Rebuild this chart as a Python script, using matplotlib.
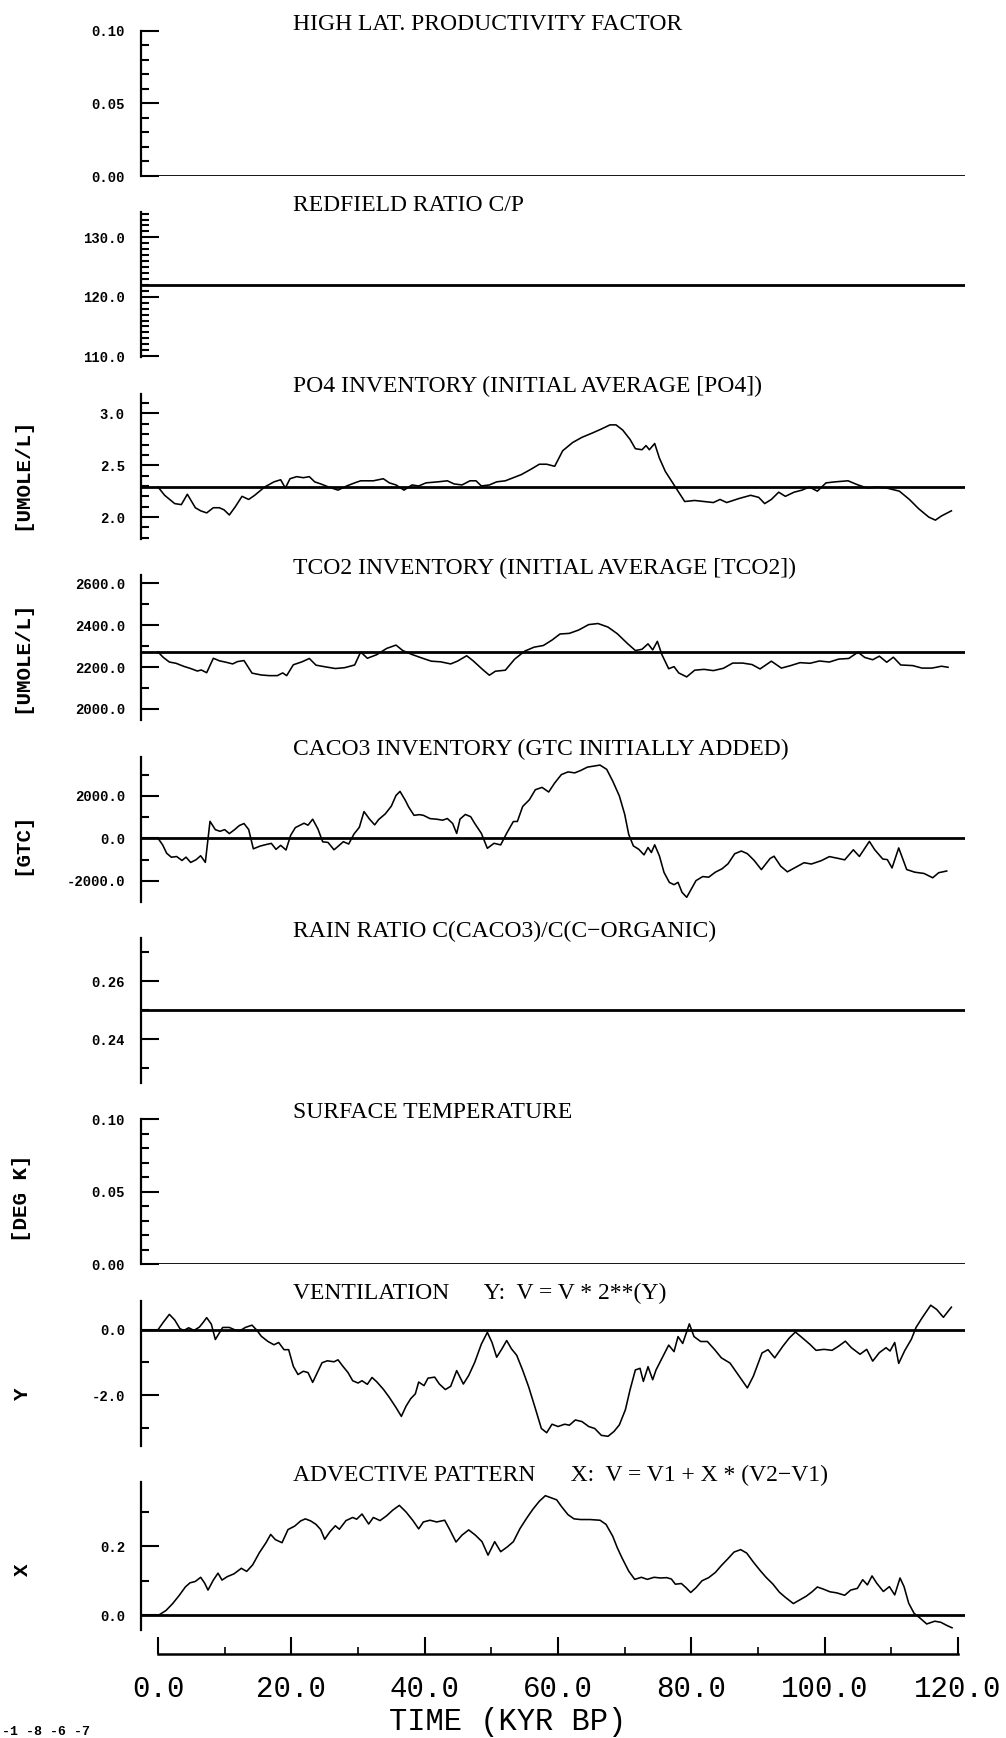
import matplotlib.pyplot as plt
from matplotlib.ticker import MultipleLocator, FormatStrFormatter

# ---- data (time in kyr BP) ----
hlat_factor = 0.0
redfield_cp = 122.0
rain_ratio = 0.25
surf_temp = 0.0

po4_t = [0, 1.0, 2.5, 3.5, 4.4, 5.6, 6.4, 7.3, 8.3, 9.2, 9.9, 10.7, 11.6, 12.6, 13.6, 14.5, 16.0, 17.4,
         18.4, 19.1, 19.8, 20.8, 21.8, 22.7, 23.5, 24.4, 25.6, 27.0, 28.3, 29.5, 30.4, 32.3, 33.8, 34.7,
         35.7, 36.9, 38.1, 39.1, 40.2, 42.0, 43.4, 44.4, 45.6, 46.8, 47.7, 48.5, 49.7, 50.8, 52.1, 53.3,
         54.5, 55.9, 57.2, 58.3, 59.5, 60.7, 62.2, 63.6, 65.1, 66.5, 67.8, 68.7, 69.7, 70.8, 71.6, 72.6,
         73.2, 73.7, 74.5, 75.2, 76.1, 77.1, 78.1, 79.0, 80.5, 81.9, 83.3, 84.3, 85.3, 87.2, 88.9, 90.1,
         91.0, 92.0, 93.1, 94.1, 95.4, 96.6, 97.7, 98.9, 100.2, 101.6, 103.5, 105.0, 106.4, 107.9, 109.3,
         111.2, 112.7, 114.1, 115.6, 116.6, 117.5, 119.0]
po4 = [2.29, 2.21, 2.13, 2.12, 2.22, 2.09, 2.06, 2.04, 2.09, 2.09, 2.07, 2.02, 2.10, 2.20, 2.17, 2.21,
       2.29, 2.34, 2.36, 2.28, 2.37, 2.39, 2.38, 2.39, 2.34, 2.32, 2.29, 2.26, 2.30, 2.33, 2.35, 2.35,
       2.37, 2.33, 2.31, 2.26, 2.31, 2.30, 2.33, 2.34, 2.35, 2.32, 2.31, 2.35, 2.35, 2.30, 2.31, 2.34,
       2.35, 2.38, 2.41, 2.46, 2.51, 2.51, 2.49, 2.64, 2.72, 2.77, 2.81, 2.85, 2.89, 2.89, 2.84, 2.75,
       2.66, 2.65, 2.69, 2.65, 2.71, 2.57, 2.44, 2.34, 2.24, 2.15, 2.16, 2.15, 2.14, 2.17, 2.14, 2.18,
       2.21, 2.19, 2.13, 2.17, 2.24, 2.20, 2.24, 2.26, 2.29, 2.25, 2.33, 2.34, 2.35, 2.31, 2.28, 2.29,
       2.28, 2.25, 2.17, 2.08, 2.00, 1.97, 2.01, 2.06]
po4_init = 2.29

tco2_t = [0, 0.8, 1.7, 2.7, 3.9, 4.9, 5.9, 6.5, 7.3, 8.3, 9.2, 10.2, 11.2, 11.9, 12.9, 14.1, 15.5, 16.7,
          17.9, 18.7, 19.3, 20.3, 21.6, 22.7, 23.7, 25.1, 26.6, 28.0, 29.5, 30.4, 31.4, 32.8, 34.3, 35.7,
          36.7, 38.1, 39.6, 41.0, 42.4, 43.9, 44.9, 46.3, 47.3, 48.7, 49.7, 50.6, 52.1, 53.5, 55.0, 56.4,
          57.8, 59.1, 60.3, 61.7, 63.1, 64.6, 66.0, 67.5, 68.9, 70.4, 71.6, 72.6, 73.5, 74.2, 74.9, 75.6,
          76.6, 77.4, 78.1, 79.3, 80.5, 81.9, 83.3, 84.8, 86.2, 87.7, 89.1, 90.3, 92.0, 93.5, 94.9, 96.3,
          97.8, 99.2, 100.7, 102.1, 103.6, 105.0, 106.0, 107.2, 108.2, 109.3, 110.3, 111.4, 113.2, 114.6,
          116.1, 117.5, 118.5]
tco2 = [2272, 2246, 2224, 2218, 2203, 2193, 2181, 2186, 2173, 2242, 2230, 2223, 2215, 2226, 2231, 2171,
        2162, 2159, 2159, 2172, 2159, 2211, 2225, 2241, 2209, 2201, 2193, 2197, 2210, 2272, 2242, 2259,
        2289, 2305, 2279, 2260, 2243, 2228, 2225, 2215, 2228, 2254, 2229, 2188, 2161, 2180, 2185, 2238,
        2276, 2295, 2303, 2329, 2358, 2361, 2377, 2403, 2408, 2391, 2359, 2313, 2279, 2285, 2311, 2282,
        2323, 2258, 2192, 2202, 2172, 2153, 2185, 2189, 2183, 2194, 2219, 2219, 2212, 2191, 2228, 2195,
        2207, 2221, 2218, 2229, 2224, 2238, 2241, 2271, 2246, 2235, 2252, 2223, 2247, 2210, 2207, 2195,
        2195, 2204, 2199]
tco2_init = 2272

caco3_t = [0, 0.7, 1.3, 2.0, 2.8, 3.6, 4.2, 4.9, 5.7, 6.4, 7.1, 7.8, 8.6, 9.3, 10.0, 10.7, 11.5, 12.2,
           12.9, 13.6, 14.3, 15.3, 16.3, 17.0, 17.7, 18.4, 19.2, 19.9, 20.6, 21.3, 21.9, 22.5, 23.2, 24.0,
           24.7, 25.5, 26.4, 27.0, 27.8, 28.6, 29.4, 30.2, 30.9, 31.7, 32.5, 33.1, 34.1, 35.0, 35.7, 36.3,
           37.1, 37.6, 38.4, 39.2, 39.8, 40.8, 41.8, 42.7, 43.4, 44.2, 44.8, 45.3, 46.1, 46.9, 47.5, 48.5,
           49.4, 50.4, 51.4, 52.3, 53.3, 53.9, 54.7, 55.7, 56.6, 57.6, 58.6, 59.5, 60.5, 61.5, 62.5, 63.4,
           64.4, 65.4, 66.3, 67.3, 68.2, 69.2, 70.0, 70.6, 71.3, 72.1, 72.9, 73.5, 74.0, 74.5, 75.2, 75.9,
           76.7, 77.4, 78.0, 78.6, 79.3, 80.0, 80.7, 81.7, 82.6, 83.6, 84.6, 85.5, 86.5, 87.5, 88.4, 89.4,
           90.5, 91.8, 92.4, 93.4, 94.4, 95.6, 96.9, 98.0, 99.5, 100.7, 101.9, 103.0, 104.3, 105.2, 106.7,
           107.5, 108.7, 109.4, 110.1, 111.1, 112.3, 113.5, 114.9, 116.2, 117.1, 118.3]
caco3 = [0, -313, -704, -891, -859, -1045, -887, -1137, -1011, -822, -1134, 797, 406, 329, 408, 221, 410,
         600, 695, 413, -496, -368, -288, -240, -521, -332, -551, 141, 503, 614, 709, 616, 899, 430, -165,
         -195, -540, -382, -160, -269, 203, 518, 1257, 913, 632, 884, 1152, 1514, 2017, 2207, 1784, 1471,
         1080, 1113, 1082, 927, 898, 852, 931, 697, 227, 903, 1123, 1015, 703, 233, -471, -235, -311, 239,
         790, 791, 1498, 1813, 2286, 2396, 2179, 2603, 2998, 3125, 3079, 3191, 3349, 3398, 3446, 3244,
         2696, 1992, 1130, 189, -359, -515, -780, -434, -669, -307, -823, -1607, -2077, -2184, -2075,
         -2544, -2778, -2384, -1991, -1802, -1831, -1595, -1436, -1200, -727, -600, -724, -1037, -1474,
         -954, -843, -1312, -1578, -1372, -1150, -1211, -1052, -862, -938, -1015, -542, -855, -146, -537,
         -974, -1005, -1396, -454, -1471, -1595, -1656, -1858, -1620, -1540]

vent_t = [0, 0.8, 1.7, 2.5, 3.3, 3.9, 4.6, 5.4, 6.2, 6.8, 7.3, 8.0, 8.6, 9.7, 10.7, 11.6, 12.3, 13.1,
          14.1, 14.8, 15.5, 16.5, 17.4, 18.1, 18.9, 19.6, 20.3, 21.0, 21.8, 22.5, 23.2, 23.9, 24.6, 25.4,
          26.4, 27.0, 27.7, 28.5, 29.2, 30.0, 30.6, 31.4, 32.1, 32.8, 33.8, 34.7, 35.7, 36.5, 37.2, 37.9,
          38.6, 39.1, 39.9, 40.5, 41.5, 42.2, 43.1, 43.9, 44.8, 45.8, 46.6, 47.5, 48.5, 49.4, 50.1, 50.8,
          51.6, 52.3, 53.0, 53.8, 54.7, 55.6, 56.6, 57.5, 58.3, 59.1, 60.0, 61.0, 61.7, 62.6, 63.6, 64.6,
          65.5, 66.5, 67.5, 68.4, 69.2, 70.1, 70.8, 71.6, 72.3, 72.8, 73.5, 74.2, 74.7, 75.6, 76.6, 77.4,
          78.0, 78.7, 79.7, 80.4, 81.4, 82.4, 83.5, 84.5, 85.8, 87.0, 88.4, 89.3, 90.6, 91.5, 92.5, 93.7,
          94.7, 95.6, 96.6, 97.8, 98.7, 99.9, 101.1, 102.1, 103.1, 104.0, 105.3, 106.3, 107.2, 108.2,
          109.2, 109.8, 110.5, 111.1, 112.0, 113.0, 113.7, 114.6, 115.9, 116.8, 117.8, 119.0]
vent = [0.0, 0.23, 0.47, 0.30, 0.03, -0.02, 0.06, -0.02, 0.08, 0.23, 0.37, 0.17, -0.30, 0.07, 0.07,
        -0.01, -0.03, 0.07, 0.14, -0.01, -0.20, -0.36, -0.46, -0.39, -0.61, -0.61, -1.12, -1.37, -1.27,
        -1.31, -1.61, -1.31, -1.01, -0.95, -0.98, -0.92, -1.11, -1.31, -1.56, -1.63, -1.56, -1.67, -1.46,
        -1.59, -1.82, -2.07, -2.38, -2.65, -2.34, -2.11, -1.96, -1.60, -1.71, -1.48, -1.45, -1.66, -1.83,
        -1.73, -1.25, -1.66, -1.40, -1.00, -0.44, -0.08, -0.39, -0.84, -0.58, -0.33, -0.58, -0.78, -1.24,
        -1.75, -2.41, -3.02, -3.15, -2.89, -2.96, -2.89, -2.92, -2.76, -2.81, -2.96, -3.02, -3.23, -3.26,
        -3.11, -2.91, -2.45, -1.84, -1.23, -1.18, -1.58, -1.13, -1.53, -1.23, -0.87, -0.47, -0.67, -0.21,
        -0.42, 0.18, -0.21, -0.36, -0.36, -0.61, -0.86, -1.02, -1.37, -1.78, -1.42, -0.71, -0.61, -0.86,
        -0.51, -0.25, -0.07, -0.24, -0.45, -0.63, -0.60, -0.63, -0.50, -0.35, -0.55, -0.75, -0.60, -0.96,
        -0.70, -0.55, -0.65, -0.39, -1.03, -0.64, -0.29, 0.07, 0.36, 0.75, 0.62, 0.38, 0.69]

adv_t = [0.3, 1.2, 2.2, 3.2, 4.1, 4.8, 5.6, 6.4, 7.0, 7.5, 8.3, 9.0, 9.6, 10.4, 11.4, 12.5, 13.3, 14.2,
         15.2, 16.2, 16.9, 17.6, 18.6, 19.5, 20.5, 21.4, 22.1, 22.9, 23.7, 24.4, 25.0, 25.8, 26.6, 27.2,
         28.2, 29.2, 29.8, 30.6, 31.6, 32.3, 33.3, 34.3, 35.2, 36.2, 37.2, 38.2, 39.1, 39.8, 40.8, 41.8,
         43.0, 43.7, 44.7, 45.6, 46.6, 47.6, 48.6, 49.5, 50.5, 51.4, 52.4, 53.3, 54.3, 55.3, 56.2, 57.2,
         58.1, 59.1, 59.8, 60.5, 61.5, 62.4, 63.4, 64.8, 66.3, 67.2, 68.2, 68.9, 69.6, 70.6, 71.5, 72.5,
         73.4, 74.4, 75.4, 76.3, 77.0, 77.6, 78.5, 79.2, 79.9, 80.7, 81.6, 82.6, 83.6, 84.5, 85.5, 86.4,
         87.4, 88.3, 89.3, 90.3, 91.2, 92.2, 93.2, 94.1, 95.3, 96.2, 97.2, 98.1, 98.9, 99.9, 100.8, 101.8,
         103.0, 103.9, 104.9, 105.7, 106.4, 107.1, 107.8, 108.8, 109.7, 110.5, 111.3, 111.9, 112.6, 113.4,
         114.3, 115.3, 116.5, 117.4, 118.4, 119.1]
adv = [0.003, 0.014, 0.034, 0.058, 0.082, 0.094, 0.098, 0.110, 0.093, 0.073, 0.102, 0.122, 0.102, 0.112,
       0.120, 0.136, 0.127, 0.146, 0.181, 0.210, 0.234, 0.219, 0.210, 0.248, 0.258, 0.273, 0.279, 0.273,
       0.263, 0.248, 0.220, 0.242, 0.259, 0.249, 0.274, 0.283, 0.278, 0.293, 0.264, 0.283, 0.274, 0.288,
       0.304, 0.318, 0.299, 0.275, 0.250, 0.270, 0.275, 0.270, 0.275, 0.250, 0.212, 0.232, 0.247, 0.232,
       0.213, 0.174, 0.213, 0.184, 0.198, 0.213, 0.251, 0.281, 0.306, 0.330, 0.346, 0.339, 0.334, 0.315,
       0.291, 0.279, 0.277, 0.277, 0.275, 0.263, 0.229, 0.195, 0.166, 0.128, 0.104, 0.110, 0.104, 0.110,
       0.108, 0.109, 0.105, 0.090, 0.092, 0.080, 0.066, 0.080, 0.100, 0.109, 0.124, 0.144, 0.164, 0.183,
       0.190, 0.180, 0.154, 0.130, 0.110, 0.091, 0.067, 0.052, 0.034, 0.044, 0.055, 0.068, 0.082, 0.075,
       0.068, 0.065, 0.058, 0.073, 0.078, 0.103, 0.088, 0.114, 0.093, 0.069, 0.083, 0.059, 0.108, 0.083,
       0.035, 0.006, -0.008, -0.025, -0.017, -0.020, -0.030, -0.036]

time_ticks = [0, 20, 40, 60, 80, 100, 120]

# ---- figure layout (pixel based, 1006 x 1738) ----
W, H = 1006, 1738
fig = plt.figure(figsize=(W / 100, H / 100), dpi=100)

LEFT = 141          # y axis line in px
X0, XR = -2.55, 121.0
PX_PER_KYR = 6.667
WIDTH = (XR - X0) * PX_PER_KYR

SERIF = 'Liberation Serif'
MONO = 'Liberation Mono'

panels = [
    dict(title='HIGH LAT. PRODUCTIVITY FACTOR', ylim=(0, 0.1), major=0.05, minor=0.01, fmt='%.2f',
         ref=hlat_factor, t=None, y=None, label=None),
    dict(title='REDFIELD RATIO C/P', ylim=(109.8, 134.2), major=10, minor=1, fmt='%.1f',
         ref=redfield_cp, t=None, y=None, label=None),
    dict(title='PO4 INVENTORY (INITIAL AVERAGE [PO4])', ylim=(1.79, 3.19), major=0.5, minor=0.1, fmt='%.1f',
         ref=po4_init, t=po4_t, y=po4, label=('[UMOLE/L]', 474)),
    dict(title='TCO2 INVENTORY (INITIAL AVERAGE [TCO2])', ylim=(1946, 2639), major=200, minor=100, fmt='%.1f',
         ref=tco2_init, t=tco2_t, y=tco2, label=('[UMOLE/L]', 657)),
    dict(title='CACO3 INVENTORY (GTC INITIALLY ADDED)', ylim=(-2980, 3845), major=2000, minor=1000, fmt='%.1f',
         ref=0.0, t=caco3_t, y=caco3, label=('[GTC]', 844)),
    dict(title='RAIN RATIO C(CACO3)/C(C\u2212ORGANIC)', ylim=(0.225, 0.275), major=0.02, minor=0.01, fmt='%.2f',
         ref=rain_ratio, t=None, y=None, label=None),
    dict(title='SURFACE TEMPERATURE', ylim=(0, 0.1), major=0.05, minor=0.01, fmt='%.2f',
         ref=surf_temp, t=None, y=None, label=('[DEG K]', 1198)),
    dict(title='VENTILATION      Y:  V = V * 2**(Y)', ylim=(-3.55, 0.885), major=2.0, minor=1.0, fmt='%.1f',
         ref=0.0, t=vent_t, y=vent, label=('Y', 1394)),
    dict(title='ADVECTIVE PATTERN      X:  V = V1 + X * (V2\u2212V1)', ylim=(-0.043, 0.385), major=0.2, minor=0.1,
         fmt='%.1f', ref=0.0, t=adv_t, y=adv, label=('X', 1570)),
]

TOP0, PITCH, HP = 31, 181.4, 145

for i, p in enumerate(panels):
    top = TOP0 + PITCH * i
    h = HP + (3 if i == 8 else 0)
    ax = fig.add_axes([LEFT / W, 1 - (top + h) / H, WIDTH / W, h / H])
    ax.set_xlim(X0, XR)
    ax.set_ylim(*p['ylim'])
    for s in ['top', 'right', 'bottom']:
        ax.spines[s].set_visible(False)
    ax.spines['left'].set_linewidth(1.6)
    ax.set_xticks([])
    ax.yaxis.set_major_locator(MultipleLocator(p['major']))
    ax.yaxis.set_minor_locator(MultipleLocator(p['minor']))
    ax.yaxis.set_major_formatter(FormatStrFormatter(p['fmt']))
    ax.tick_params(axis='y', which='major', direction='in', length=13, width=1.5, pad=11.5,
                   labelsize=10)
    ax.tick_params(axis='y', which='minor', direction='in', length=5.5, width=1.5)
    for lab in ax.get_yticklabels():
        lab.set_family(MONO)
        lab.set_weight('bold')
    ax.axhline(p['ref'], color='black', lw=2.0)
    if p['t'] is not None:
        ax.plot(p['t'], p['y'], color='black', lw=1.15)
    ax.annotate(p['title'], xy=(20.3, 1.0), xycoords=('data', 'axes fraction'),
                xytext=(0, 1), textcoords='offset points', va='baseline', ha='left',
                fontsize=17, family=SERIF)
    if p['label'] is not None:
        txt, ypx = p['label']
        fig.text(22 / W, 1 - ypx / H, txt, rotation=90, ha='center', va='center',
                 fontsize=15, family=MONO, weight='bold')

# ---- time axis ----
tax = fig.add_axes([LEFT / W, 1 - 1654 / H, WIDTH / W, 20 / H])
tax.set_xlim(X0, XR)
tax.set_ylim(0, 1)
for s in ['top', 'right', 'left']:
    tax.spines[s].set_visible(False)
tax.spines['bottom'].set_bounds(0, 120)
tax.spines['bottom'].set_linewidth(1.8)
tax.set_yticks([])
tax.set_xticks(time_ticks)
tax.xaxis.set_minor_locator(MultipleLocator(10))
tax.xaxis.set_major_formatter(FormatStrFormatter('%.1f'))
tax.tick_params(axis='x', which='major', direction='in', length=12.5, width=1.5, pad=15, labelsize=21)
tax.tick_params(axis='x', which='minor', direction='in', length=5, width=1.2)
tax.patch.set_visible(False)
for lab in tax.get_xticklabels():
    lab.set_family(MONO)

fig.text(508 / W, 1 - 1722 / H, 'TIME (KYR BP)', ha='center', va='center', fontsize=22, family=MONO)
fig.text(2 / W, 1 - 1732 / H, '-1 -8 -6 -7', ha='left', va='center', fontsize=9.5, family=MONO, weight='bold')

fig.savefig('out.png', dpi=100)
